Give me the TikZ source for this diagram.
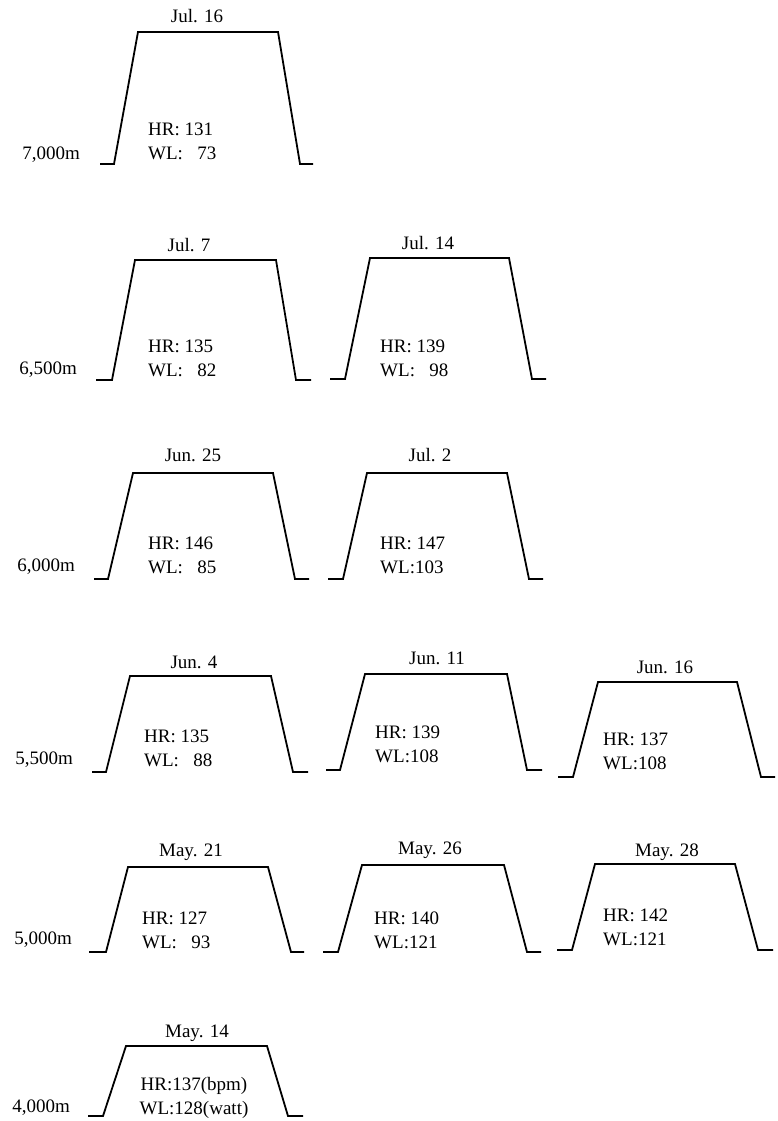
\documentclass[tikz,border=0pt]{standalone}
\usepackage{fontspec}
\setmainfont{Liberation Serif}
\usetikzlibrary{positioning}

\begin{document}
\begin{tikzpicture}[
    x=1pt,y=-1pt,
    prof/.style={line width=1.8pt,line join=miter},
    date/.style={font=\fontsize{19}{21}\selectfont,inner sep=0pt},
    val/.style={font=\fontsize{19}{24}\selectfont,align=left,anchor=west,inner sep=0pt},
    alt/.style={font=\fontsize{19}{21}\selectfont,anchor=east,inner sep=0pt},
]
\useasboundingbox (0,0) rectangle (778,1121);

% 7,000m
\node[alt] (a7000) at (80,155) {7,000m};
\draw[prof] (100,164) -- (114,164) -- (138,32) -- (278,32) -- (300,164) -- (313,164);
\node[date] (jul16) at (197,16) {Jul. 16};
\node[val] (v-jul16) at (148,141) {HR: 131\\WL: \phantom{1}73};

% 6,500m
\node[alt] (a6500) at (77,370) {6,500m};
\draw[prof] (96,380) -- (112,380) -- (135,260) -- (276,260) -- (296,380) -- (311,380);
\node[date] (jul7) at (189,245) {Jul. 7};
\node[val] (v-jul7) at (148,358) {HR: 135\\WL: \phantom{1}82};
\draw[prof] (330,379) -- (345,379) -- (370,258) -- (509,258) -- (532,379) -- (546,379);
\node[date] (jul14) at (428,243) {Jul. 14};
\node[val] (v-jul14) at (380,358) {HR: 139\\WL: \phantom{1}98};

% 6,000m
\node[alt] (a6000) at (75,567) {6,000m};
\draw[prof] (94,579) -- (108,579) -- (133,473) -- (273,473) -- (295,579) -- (309,579);
\node[date] (jun25) at (193,455) {Jun. 25};
\node[val] (v-jun25) at (148,555) {HR: 146\\WL: \phantom{1}85};
\draw[prof] (328,579) -- (343,579) -- (367,473) -- (507,473) -- (529,579) -- (543,579);
\node[date] (jul2) at (430,455) {Jul. 2};
\node[val] (v-jul2) at (380,555) {HR: 147\\WL:103};

% 5,500m
\node[alt] (a5500) at (73,760) {5,500m};
\draw[prof] (92,772) -- (106,772) -- (130,676) -- (271,676) -- (293,772) -- (308,772);
\node[date] (jun4) at (194,662) {Jun. 4};
\node[val] (v-jun4) at (144,748) {HR: 135\\WL: \phantom{1}88};
\draw[prof] (326,770) -- (340,770) -- (365,674) -- (507,674) -- (527,770) -- (542,770);
\node[date] (jun11) at (437,658) {Jun. 11};
\node[val] (v-jun11) at (375,744) {HR: 139\\WL:108};
\draw[prof] (558,777) -- (573,777) -- (598,682) -- (737,682) -- (761,777) -- (775,777);
\node[date] (jun16) at (665,667) {Jun. 16};
\node[val] (v-jun16) at (603,751) {HR: 137\\WL:108};

% 5,000m
\node[alt] (a5000) at (72,940) {5,000m};
\draw[prof] (89,952) -- (106,952) -- (128,867) -- (268,867) -- (291,952) -- (304,952);
\node[date] (may21) at (191,852) {May. 21};
\node[val] (v-may21) at (142,930) {HR: 127\\WL: \phantom{1}93};
\draw[prof] (323,952) -- (338,952) -- (362,865) -- (504,865) -- (527,952) -- (541,952);
\node[date] (may26) at (430,850) {May. 26};
\node[val] (v-may26) at (374,930) {HR: 140\\WL:121};
\draw[prof] (557,950) -- (572,950) -- (595,864) -- (735,864) -- (758,950) -- (773,950);
\node[date] (may28) at (667,852) {May. 28};
\node[val] (v-may28) at (603,927) {HR: 142\\WL:121};

% 4,000m
\node[alt] (a4000) at (70,1108) {4,000m};
\draw[prof] (88,1116) -- (103,1116) -- (126,1046) -- (267,1046) -- (288,1116) -- (303,1116);
\node[date] (may14) at (197,1033) {May. 14};
\node[val,align=center,anchor=center] (v-may14) at (194,1098) {HR:137(bpm)\\WL:128(watt)};
\end{tikzpicture}
\end{document}
